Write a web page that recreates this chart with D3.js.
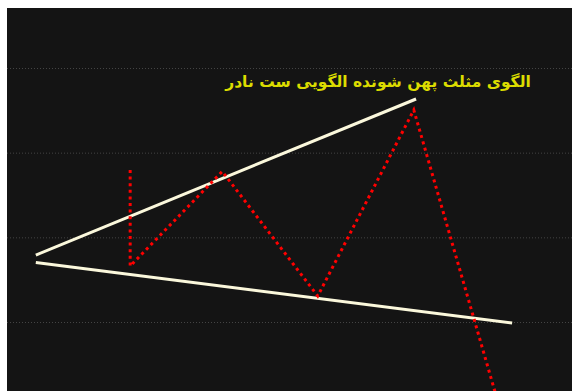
<!DOCTYPE html>
<html>
<head>
<meta charset="utf-8">
<script src="https://cdn.jsdelivr.net/npm/d3@7"></script>
<style>
  html, body { margin: 0; padding: 0; background: #ffffff; }
  svg { display: block; }
</style>
</head>
<body>
<div id="chart"></div>
<script>
// price levels for the horizontal grid
const gridLevels = [400, 300, 200, 100];

// broadening (expanding) triangle boundaries: [bar, price]
const upperLine = [[5.1, 179.1], [72.4, 363.4]];
const lowerLine = [[5.1, 170.3], [89.4, 98.8]];

// price swings drawn as a red dotted zigzag
const swingBars   = [21.8, 21.8, 38.1, 55.0, 72.0, 87.3];
const swingPrices = [279.5, 166.1, 277.8, 130.7, 350.4, -4];

const label = "الگوی مثلث پهن شونده الگویی ست نادر";

const width = 572, height = 391;
const margin = { top: 8, left: 7 };

const svg = d3.select("#chart").append("svg")
    .attr("width", width)
    .attr("height", height);

svg.append("rect")
    .attr("x", margin.left)
    .attr("y", margin.top)
    .attr("width", width - margin.left)
    .attr("height", height - margin.top)
    .attr("fill", "#141414");

const x = d3.scaleLinear().domain([0, 100]).range([margin.left, width]);
const y = d3.scaleLinear().domain([100, 400]).range([322, 68]);

const plot = svg.append("g");

// dotted grid lines
const grid = d3.axisLeft(y)
    .tickValues(gridLevels)
    .tickSize(-(width - margin.left))
    .tickFormat("");

plot.append("g")
    .attr("transform", `translate(${margin.left},0)`)
    .call(grid)
    .call(g => g.select(".domain").remove())
    .call(g => g.selectAll(".tick line")
        .attr("stroke", "#444444")
        .attr("stroke-width", 1)
        .attr("stroke-dasharray", "1,2"));

const line = d3.line().x(d => x(d[0])).y(d => y(d[1]));

[upperLine, lowerLine].forEach(pts => {
    plot.append("path")
        .attr("d", line(pts))
        .attr("fill", "none")
        .attr("stroke", "#fbf8dc")
        .attr("stroke-width", 3);
});

const swings = swingBars.map((b, i) => [b, swingPrices[i]]);

plot.append("path")
    .attr("d", line(swings))
    .attr("fill", "none")
    .attr("stroke", "#ff0000")
    .attr("stroke-width", 3)
    .attr("stroke-dasharray", "3,3.6");

plot.append("text")
    .attr("x", 378)
    .attr("y", 87)
    .attr("text-anchor", "middle")
    .attr("direction", "rtl")
    .attr("font-family", "DejaVu Sans, Noto Sans, sans-serif")
    .attr("font-weight", "bold")
    .attr("font-size", 15.5)
    .attr("fill", "#dcdc00")
    .text(label);
</script>
</body>
</html>
